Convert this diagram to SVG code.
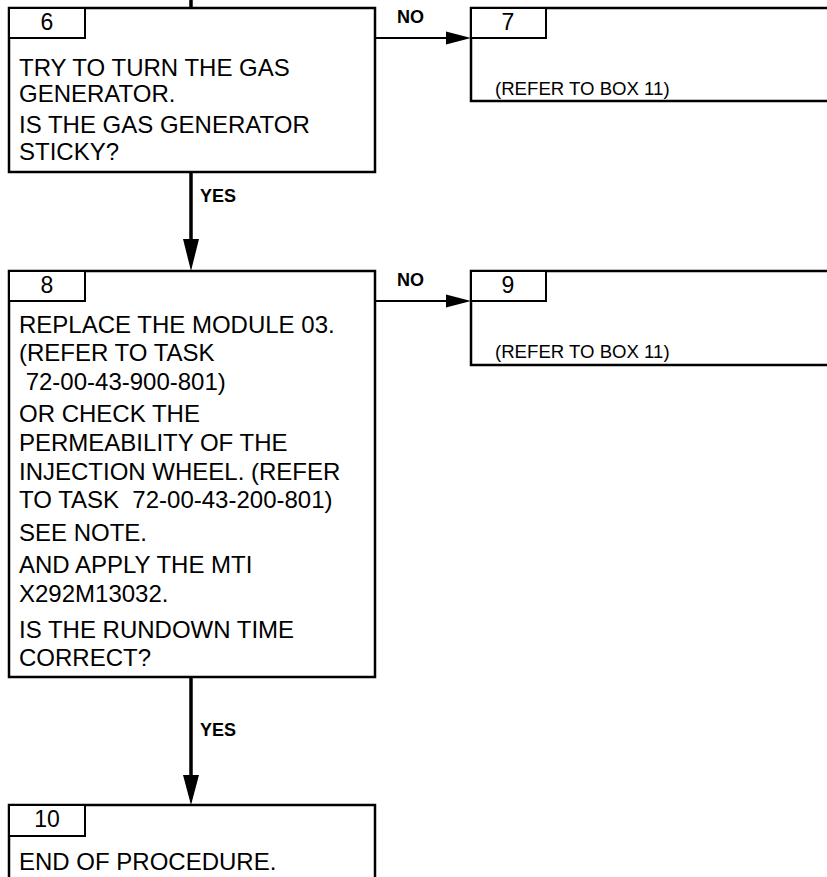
<svg xmlns="http://www.w3.org/2000/svg" width="827" height="877" viewBox="0 0 827 877">
<style>
.box{fill:#fff;stroke:#000;stroke-width:2.5}
.tab{fill:#fff;stroke:#000;stroke-width:2}
.t{font-family:"Liberation Sans",Arial,sans-serif;font-size:24px;fill:#000}
.n{font-family:"Liberation Sans",Arial,sans-serif;font-size:23px;fill:#000;text-anchor:middle}
.s{font-family:"Liberation Sans",Arial,sans-serif;font-size:18.6px;fill:#000}
.l{font-family:"Liberation Sans",Arial,sans-serif;font-size:18px;font-weight:bold;fill:#000}
.v{stroke:#000;stroke-width:3.5;fill:none}
.h{stroke:#000;stroke-width:2;fill:none}
</style>
<rect width="827" height="877" fill="#fff"/>
<g id="connectors">
<line class="v" x1="191" y1="0" x2="191" y2="8"/>
<line class="v" x1="191" y1="172" x2="191" y2="242"/>
<polygon points="183,239 199,239 191,271"/>
<text class="l" x="200" y="202">YES</text>
<line class="h" x1="375" y1="38" x2="448" y2="38"/>
<polygon points="446,31.5 471,38 446,44.5"/>
<text class="l" x="397" y="23">NO</text>
<line class="h" x1="375" y1="301" x2="448" y2="301"/>
<polygon points="446,294.5 471,301 446,307.5"/>
<text class="l" x="397" y="286">NO</text>
<line class="v" x1="191" y1="677" x2="191" y2="778"/>
<polygon points="183,775 199,775 191,805"/>
<text class="l" x="200" y="736">YES</text>
</g>
<g id="box6">
<rect class="box" x="9" y="8" width="366" height="164"/>
<rect class="tab" x="9" y="8" width="76" height="30"/>
<text class="n" x="47" y="30">6</text>
<text class="t" x="19" y="76">TRY TO TURN THE GAS</text>
<text class="t" x="19" y="102">GENERATOR.</text>
<text class="t" x="19" y="133">IS THE GAS GENERATOR</text>
<text class="t" x="19" y="160">STICKY?</text>
</g>
<g id="box7">
<rect class="box" x="471" y="8" width="370" height="93"/>
<rect class="tab" x="471" y="8" width="75" height="30"/>
<text class="n" x="508" y="30">7</text>
<text class="s" x="495" y="95">(REFER TO BOX 11)</text>
</g>
<g id="box8">
<rect class="box" x="9" y="271" width="366" height="406"/>
<rect class="tab" x="9" y="271" width="76" height="30"/>
<text class="n" x="47" y="293">8</text>
<text class="t" x="19" y="333">REPLACE THE MODULE 03.</text>
<text class="t" x="19" y="361">(REFER TO TASK</text>
<text class="t" x="19" y="390" xml:space="preserve"> 72-00-43-900-801)</text>
<text class="t" x="19" y="422">OR CHECK THE</text>
<text class="t" x="19" y="451">PERMEABILITY OF THE</text>
<text class="t" x="19" y="480">INJECTION WHEEL. (REFER</text>
<text class="t" x="19" y="508" xml:space="preserve">TO TASK  72-00-43-200-801)</text>
<text class="t" x="19" y="541">SEE NOTE.</text>
<text class="t" x="19" y="573">AND APPLY THE MTI</text>
<text class="t" x="19" y="602">X292M13032.</text>
<text class="t" x="19" y="638">IS THE RUNDOWN TIME</text>
<text class="t" x="19" y="666">CORRECT?</text>
</g>
<g id="box9">
<rect class="box" x="471" y="271" width="370" height="94"/>
<rect class="tab" x="471" y="271" width="75" height="30"/>
<text class="n" x="508" y="293">9</text>
<text class="s" x="495" y="358">(REFER TO BOX 11)</text>
</g>
<g id="box10">
<rect class="box" x="9" y="805" width="366" height="90"/>
<rect class="tab" x="9" y="805" width="76" height="31"/>
<text class="n" x="47" y="827">10</text>
<text class="t" x="19" y="870">END OF PROCEDURE.</text>
</g>
</svg>
